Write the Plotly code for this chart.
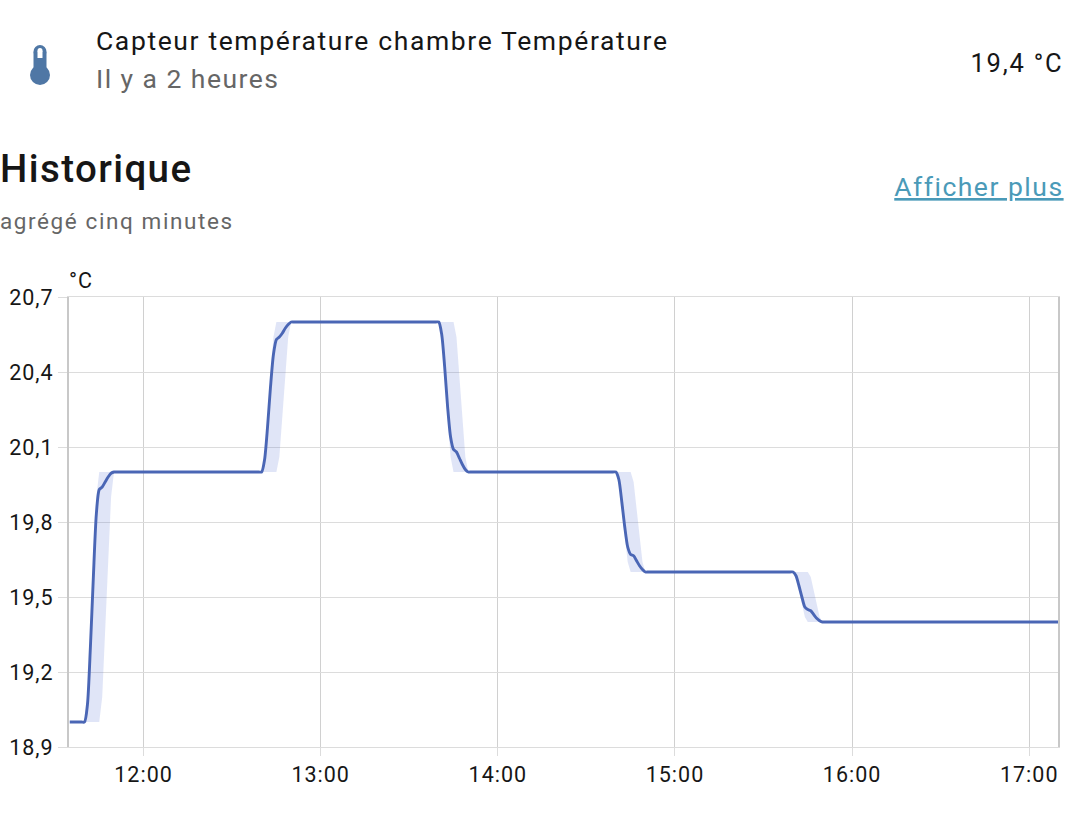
import plotly.graph_objects as go

W, H = 1084, 829
L, R, T, B = 69, 1058, 297, 747

times = ["11:35","11:39",
 "11:40","11:41","11:42","11:43","11:44","11:45","11:46","11:47","11:48","11:49","11:50","11:51",
 "12:39","12:40","12:41","12:42","12:43","12:44","12:45","12:46","12:47","12:48","12:49","12:50","12:51",
 "13:39","13:40","13:41","13:42","13:43","13:44","13:45","13:46","13:47","13:48","13:49","13:50","13:51",
 "14:39","14:40","14:41","14:42","14:43","14:44","14:45","14:46","14:47","14:48","14:49","14:50","14:51",
 "15:39","15:40","15:41","15:42","15:43","15:44","15:45","15:46","15:47","15:48","15:49","15:50","15:51",
 "17:10"]
mean_values = [19.0,19.0,
 19.0,19.07,19.30,19.58,19.83,19.93,19.94,19.96,19.98,19.995,20.0,20.0,
 20.0,20.0,20.05,20.18,20.34,20.47,20.53,20.54,20.555,20.575,20.59,20.6,20.6,
 20.6,20.6,20.55,20.42,20.26,20.14,20.09,20.08,20.055,20.03,20.01,20.0,20.0,
 20.0,20.0,19.97,19.88,19.78,19.70,19.67,19.665,19.645,19.625,19.61,19.6,19.6,
 19.6,19.6,19.585,19.545,19.50,19.46,19.45,19.445,19.43,19.415,19.405,19.4,19.4,
 19.4]
upper_values = [19.0,19.0,
 19.0,19.10,19.35,19.65,19.90,20.0,20.0,20.0,20.0,20.0,20.0,20.0,
 20.0,20.0,20.06,20.21,20.39,20.54,20.6,20.6,20.6,20.6,20.6,20.6,20.6,
 20.6,20.6,20.6,20.6,20.6,20.6,20.6,20.54,20.39,20.21,20.06,20.0,20.0,
 20.0,20.0,20.0,20.0,20.0,20.0,20.0,19.96,19.86,19.74,19.64,19.6,19.6,
 19.6,19.6,19.6,19.6,19.6,19.6,19.6,19.58,19.53,19.47,19.42,19.4,19.4,
 19.4]
lower_values = [19.0,19.0,
 19.0,19.0,19.0,19.0,19.0,19.0,19.10,19.35,19.65,19.90,20.0,20.0,
 20.0,20.0,20.0,20.0,20.0,20.0,20.0,20.06,20.21,20.39,20.54,20.6,20.6,
 20.6,20.6,20.54,20.39,20.21,20.06,20.0,20.0,20.0,20.0,20.0,20.0,20.0,
 20.0,20.0,19.96,19.86,19.74,19.64,19.6,19.6,19.6,19.6,19.6,19.6,19.6,
 19.6,19.6,19.58,19.53,19.47,19.42,19.4,19.4,19.4,19.4,19.4,19.4,19.4,
 19.4]
y_ticks = [18.9, 19.2, 19.5, 19.8, 20.1, 20.4, 20.7]
y_labels = ["18,9", "19,2", "19,5", "19,8", "20,1", "20,4", "20,7"]
x_ticks = ["12:00", "13:00", "14:00", "15:00", "16:00", "17:00"]

DAY = "2024-01-01 "
xs = [DAY + t for t in times]

LINE = "#4a66b5"
GRID = "#dcdcdc"
VGRID = "#d0d0d0"
FONT = "Roboto"

def px(x):
    return x / (R - L) - L / (R - L)

def py(y):
    return (B - y) / (B - T)

fig = go.Figure()
fig.add_trace(go.Scatter(x=xs, y=upper_values, mode="lines", line=dict(width=0), showlegend=False, hoverinfo="skip"))
fig.add_trace(go.Scatter(x=xs, y=lower_values, mode="lines", line=dict(width=0), fill="tonexty",
                         fillcolor="rgba(74,102,210,0.17)", showlegend=False, hoverinfo="skip"))
fig.add_trace(go.Scatter(x=xs, y=mean_values, mode="lines",
                         line=dict(color=LINE, width=2.9, shape="spline", smoothing=0.7), showlegend=False))

def label(text, x, y, size, color, anchor="left", weight=None):
    fig.add_annotation(text=text, x=px(x), y=py(y), xref="paper", yref="paper", showarrow=False,
                       xanchor=anchor, yanchor="middle", align=anchor,
                       font=dict(family=FONT, size=size, color=color, weight=weight))

label("Capteur température chambre Température", 94, 41, 26.5, "#161616")
label("Il y a 2 heures", 94, 78, 26.5, "#666666")
label("19,4 °C", 1065, 63, 25.5, "#161616", "right")
label("Historique", -2, 169, 38.5, "#161616", "left", 500)
label("agrégé cinq minutes", -2, 221, 22.5, "#666666")
label("<u>Afficher plus</u>", 1066, 186, 26.5, "#4a9ab8", "right")
label("°C", 67, 280, 21.5, "#161616")
ANNOTATION_SPACING = ["1.62px", "1.45px", "1.8px", "1.4px", "1.6px", "1.5px", "1px"]

ICON = "#4f77a5"
shapes = [
    dict(type="circle", x0=px(30), x1=px(50), y0=py(85), y1=py(65), fillcolor=ICON, line_width=0),
    dict(type="rect", x0=px(33.5), x1=px(46.5), y0=py(70), y1=py(52), fillcolor=ICON, line_width=0),
    dict(type="circle", x0=px(33.5), x1=px(46.5), y0=py(58), y1=py(45), fillcolor=ICON, line_width=0),
    dict(type="rect", x0=px(37.5), x1=px(42.5), y0=py(58), y1=py(51), fillcolor="white", line_width=0),
    dict(type="circle", x0=px(37.5), x1=px(42.5), y0=py(53), y1=py(48), fillcolor="white", line_width=0),
]
for s in shapes:
    s.update(xref="paper", yref="paper", layer="above")
fig.update_layout(shapes=shapes)

fig.update_layout(
    width=W, height=H, autosize=False,
    margin=dict(l=L, r=W - R, t=T, b=H - B, pad=0),
    paper_bgcolor="white", plot_bgcolor="white",
    font=dict(family=FONT, color="#161616", size=21),
    showlegend=False,
    xaxis=dict(type="date", range=[DAY + "11:34:45", DAY + "17:09:45"],
               tickvals=[DAY + t for t in x_ticks], ticktext=x_ticks,
               showgrid=True, gridcolor=VGRID, gridwidth=1.4,
               showline=True, linecolor=GRID, linewidth=1.4, mirror=True,
               ticks="outside", ticklen=8, tickcolor=GRID, tickwidth=1.4,
               tickfont=dict(size=21.5), zeroline=False),
    yaxis=dict(range=[18.9, 20.7], tickvals=y_ticks, ticktext=y_labels,
               showgrid=True, gridcolor=GRID, gridwidth=1.4,
               showline=True, linecolor="#c8c8c8", linewidth=2, mirror=True,
               ticks="outside", ticklen=9, tickcolor=GRID, tickwidth=1.4,
               tickfont=dict(size=21.5), zeroline=False),
)

spacing_js = ("var sp=%s;document.querySelectorAll('.annotation-text').forEach(function(e,i){e.style.letterSpacing=sp[i];});"
              "document.querySelectorAll('.xtick text,.ytick text').forEach(function(e){e.style.letterSpacing='1px';});"
              % ANNOTATION_SPACING)
fig.write_html("out.html", config=dict(displayModeBar=False),
               post_script="document.body.style.margin='0';document.documentElement.style.overflow='hidden';" + spacing_js)
